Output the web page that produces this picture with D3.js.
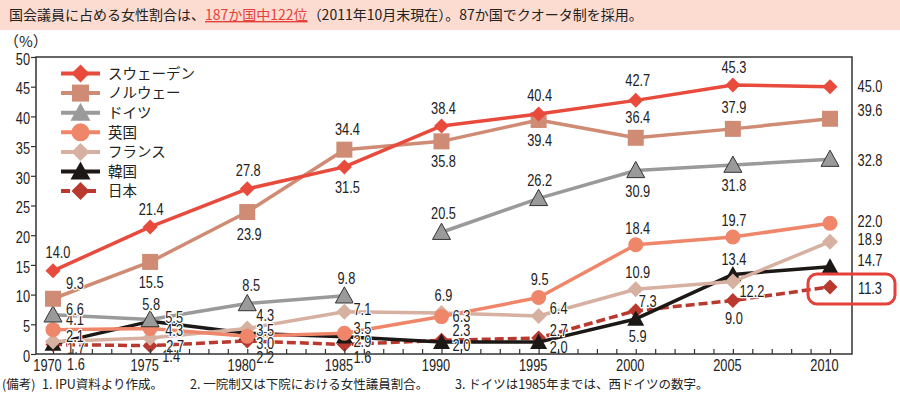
<!DOCTYPE html>
<html><head><meta charset="utf-8">
<script src="https://cdn.jsdelivr.net/npm/d3@7"></script>
<style>
html,body{margin:0;padding:0;background:#fff;}
svg{display:block;}
.num{font-family:"Liberation Sans",Arial,sans-serif;font-size:16px;fill:#222;}
.jp{font-family:"Noto Sans CJK JP","Noto Sans",sans-serif;fill:#222;}
</style></head>
<body>
<svg id="c" width="900" height="399"></svg>
<script>
// ---- data ----
const years   = [1970,1975,1980,1985,1990,1995,2000,2005,2010];
const sweden  = [14.0,21.4,27.8,31.5,38.4,40.4,42.7,45.3,45.0];
const norway  = [9.3,15.5,23.9,34.4,35.8,39.4,36.4,37.9,39.6];
const germany = [6.6,5.8,8.5,9.8,20.5,26.2,30.9,31.8,32.8];
const germanyUnifiedFrom = 1990; // West Germany until 1985
const uk      = [4.1,4.3,3.0,3.5,6.3,9.5,18.4,19.7,22.0];
const france  = [2.1,2.7,4.3,7.1,6.9,6.4,10.9,12.2,18.9];
const korea   = [1.7,5.5,3.5,2.9,2.0,2.0,5.9,13.4,14.7];
const japan   = [1.6,1.4,2.2,1.6,2.3,2.7,7.3,9.0,11.3];
const seriesNames = ["スウェーデン","ノルウェー","ドイツ","英国","フランス","韓国","日本"];
const yTicks = [0,5,10,15,20,25,30,35,40,45,50];

// ---- layout (label offsets, px relative to marker) ----
const labelOffsets = {
  "スウェーデン":[[5,-18],[1,-17],[1,-18],[3,21],[2,-18],[1,-19],[2,-20],[1,-18],[40,0]],
  "ノルウェー":[[22,-15],[1,20],[2,22],[3,-20],[2,20],[1,20],[2,-20],[1,-21],[40,-8]],
  "ドイツ":[[22,-5],[1,-15],[4,-18],[2,-17],[2,-19],[1,-18],[2,21],[1,20],[40,1]],
  "英国":[[22,-10],[24,2],[18,7],[18,-5],[20,0],[1,-18],[2,-16],[1,-17],[40,-2]],
  "フランス":[[22,-5],[25,8],[18,-13],[18,-2],[2,-18],[20,-8],[2,-17],[19,10],[40,-2]],
  "韓国":[[23,4],[24,-4],[18,-3],[18,5],[20,3],[20,5],[2,17],[1,-15],[40,-6]],
  "日本":[[23,20],[21,11],[18,16],[18,13],[20,-10],[20,-8],[12,-9],[1,18],[40,2]]
};
const styles = {
  "スウェーデン":{color:"#e84a3c",marker:"diamond",size:7.5},
  "ノルウェー":{color:"#cf8b73",marker:"square",size:8},
  "ドイツ":{color:"#9a9a9a",marker:"triangle",size:9,stroke:"#333"},
  "英国":{color:"#ef866a",marker:"circle",size:7.5},
  "フランス":{color:"#d6b0a0",marker:"diamond",size:8},
  "韓国":{color:"#1c1816",marker:"triangle",size:8.5},
  "日本":{color:"#b9392f",marker:"diamond",size:7.5,dash:"9,4"}
};
const values = {"スウェーデン":sweden,"ノルウェー":norway,"ドイツ":germany,"英国":uk,"フランス":france,"韓国":korea,"日本":japan};
const SX = 0.8; // condensed digits

const svg = d3.select("#c");
const x = d3.scaleLinear().domain([1970,2010]).range([53,830]);
const y = d3.scaleLinear().domain([0,50]).range([354,57]);

function markerPath(type, s){
  if(type==="diamond") return `M0,${-s}L${s},0L0,${s}L${-s},0Z`;
  if(type==="square") return `M${-s},${-s}H${s}V${s}H${-s}Z`;
  if(type==="triangle") return `M0,${-s}L${s},${s*0.8}L${-s},${s*0.8}Z`;
  const p=d3.path();p.arc(0,0,s,0,2*Math.PI);p.closePath();return p.toString();
}

// header band
svg.append("rect").attr("x",0).attr("y",0).attr("width",900).attr("height",30).attr("fill","#fcdcd0");
const ht = svg.append("text").attr("class","jp").attr("x",9).attr("y",20).style("font-size","14px");
ht.append("tspan").text("国会議員に占める女性割合は、");
ht.append("tspan").style("fill","#e5413b").attr("text-decoration","underline").text("187か国中122位");
ht.append("tspan").text("（2011年10月末現在）。87か国でクオータ制を採用。");

// unit label
svg.append("text").attr("class","jp").attr("x",4).attr("y",47).style("font-size","15px").text("（%）");

const g = svg.append("g");
const line = d3.line().x(d=>x(d[0])).y(d=>y(d[1]));

const drawOrder = ["日本","韓国","フランス","英国","ドイツ","ノルウェー","スウェーデン"];
drawOrder.forEach(name=>{
  const st = styles[name];
  const pts = years.map((yr,i)=>[yr,values[name][i]]);
  let segs = [pts];
  if(name==="ドイツ") segs = [pts.filter(p=>p[0]<germanyUnifiedFrom), pts.filter(p=>p[0]>=germanyUnifiedFrom)];
  segs.forEach(s=>{
    g.append("path").attr("d",line(s)).attr("fill","none").attr("stroke",st.color)
      .attr("stroke-width",3.5).attr("stroke-dasharray",st.dash||null).attr("stroke-linejoin","round");
  });
  g.selectAll(null).data(pts).enter().append("path")
    .attr("transform",d=>`translate(${x(d[0])},${y(d[1])})`)
    .attr("d",markerPath(st.marker,st.size))
    .attr("fill",st.color).attr("stroke",st.stroke||"none").attr("stroke-width",1);
});

// value labels
const lg = svg.append("g");
drawOrder.forEach(name=>{
  const offs = labelOffsets[name];
  years.forEach((yr,i)=>{
    const v = values[name][i];
    lg.append("text").attr("class","num")
      .attr("transform",`translate(${x(yr)+offs[i][0]},${y(v)+offs[i][1]}) scale(${SX},1)`)
      .attr("dy","0.35em")
      .attr("text-anchor","middle")
      .attr("stroke",i===years.length-1?"none":"#fff").attr("stroke-width",2.5)
      .attr("paint-order","stroke").attr("stroke-linejoin","round")
      .text(v.toFixed(1));
  });
});

// frame
svg.append("rect").attr("x",36).attr("y",57).attr("width",816).attr("height",297)
  .attr("fill","none").attr("stroke","#333").attr("stroke-width",1.5);

// y axis
const ya = svg.append("g").attr("transform","translate(36,0)")
  .call(d3.axisLeft(y).tickValues(yTicks).tickSize(5).tickPadding(4));
ya.select(".domain").remove();
ya.selectAll("line").attr("stroke","#333").attr("stroke-width",1.2);
ya.selectAll("text").attr("class","num").attr("font-family",null).attr("font-size",null)
  .attr("x",-6/SX).attr("dy","0.45em").attr("transform",`scale(${SX},1)`);

// x axis
const allYears = d3.range(1970,2011);
const xa = svg.append("g").attr("transform","translate(0,354)")
  .call(d3.axisBottom(x).tickValues(allYears).tickSize(-5).tickPadding(6)
    .tickFormat(d=> d%5===0 ? String(d) : ""));
xa.select(".domain").remove();
xa.selectAll("line").attr("stroke","#333").attr("stroke-width",1.2);
xa.selectAll("text").attr("class","num").attr("font-family",null).attr("font-size",null)
  .attr("x",-6/SX).attr("transform",`scale(${SX},1)`);

// right highlight box
svg.append("rect").attr("x",808).attr("y",274).attr("width",87).attr("height",30).attr("rx",9)
  .attr("fill","none").attr("stroke","#e5413b").attr("stroke-width",3);

// legend
const legY0 = 73.5, legStep = 19.6;
seriesNames.forEach((name,i)=>{
  const st = styles[name];
  const ly = legY0 + i*legStep;
  svg.append("line").attr("x1",61).attr("x2",100).attr("y1",ly).attr("y2",ly)
    .attr("stroke",st.color).attr("stroke-width",4).attr("stroke-dasharray",st.dash||null);
  svg.append("path").attr("transform",`translate(80.5,${ly})`)
    .attr("d",markerPath(st.marker, st.marker==="triangle"?10:(st.marker==="square"?8.5:9)))
    .attr("fill",st.color);
  svg.append("text").attr("class","jp").attr("x",108).attr("y",ly).attr("dy","0.36em")
    .style("font-size","14.5px").text(name);
});

// footnote
const fn = svg.append("text").attr("class","jp").attr("y",389).style("font-size","12.5px");
fn.append("tspan").attr("x",2).text("(備考)");
fn.append("tspan").attr("x",42).text("1.  IPU資料より作成。");
fn.append("tspan").attr("x",190).text("2.  一院制又は下院における女性議員割合。");
fn.append("tspan").attr("x",455).text("3.  ドイツは1985年までは、西ドイツの数字。");
</script>
</body></html>
